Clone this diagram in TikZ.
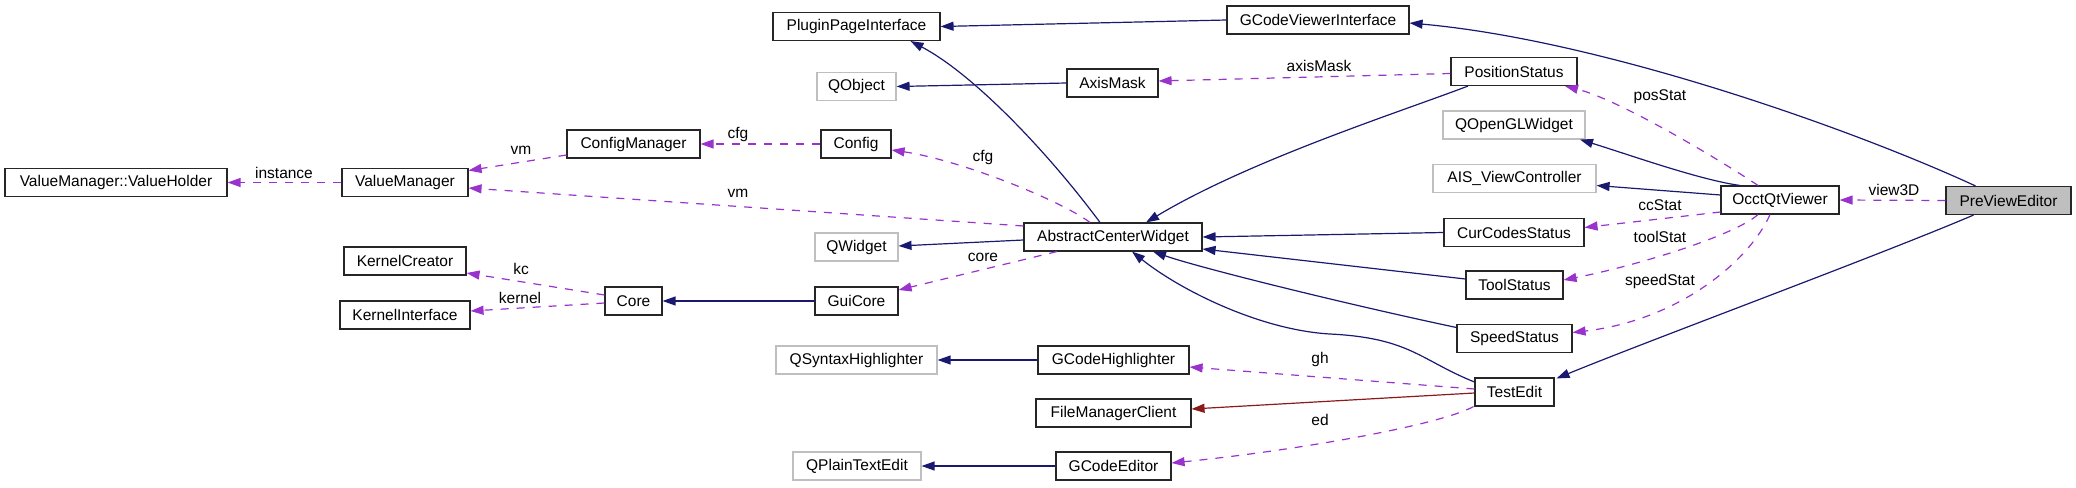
\documentclass[tikz,border=0pt]{standalone}
\usepackage{fontspec}
\setmainfont{Liberation Sans}
\usetikzlibrary{arrows.meta,calc}
\definecolor{inhblue}{HTML}{191970}
\definecolor{usepurple}{HTML}{9A32CD}
\definecolor{protred}{HTML}{8B1A1A}
\definecolor{extgray}{HTML}{BFBFBF}
\begin{document}
\begin{tikzpicture}[x=1pt,y=-1pt,
  cls/.style={draw=black!85, line width=1.1pt, rectangle, minimum height=28pt, inner sep=0pt, font=\fontsize{15.5}{18}\selectfont},
  ext/.style={cls, draw=extgray},
  cur/.style={cls, fill=extgray},
  inh/.style={draw=inhblue, line width=1.2pt, -{Triangle[length=13pt,width=9pt]}},
  prot/.style={inh, draw=protred},
  use/.style={draw=usepurple, line width=1.2pt, dash pattern=on 8pt off 8pt, -{Triangle[length=13pt,width=9pt]}},
  lbl/.style={font=\fontsize{15.5}{18}\selectfont, inner sep=0pt}]
\useasboundingbox (0,0) rectangle (2076,487);

% nodes
\node[cls, minimum width=222pt] (vh) at (116,182.5) {ValueManager::ValueHolder};
\node[cls, minimum width=126pt] (vm) at (405,182.5) {ValueManager};
\node[cls, minimum width=133pt] (cm) at (633.5,144) {ConfigManager};
\node[cls, minimum width=122pt] (kc) at (405,261) {KernelCreator};
\node[cls, minimum width=130pt] (ki) at (405,315) {KernelInterface};
\node[cls, minimum width=57pt] (core) at (633.5,301) {Core};
\node[cls, minimum width=167pt] (ppi) at (856.5,26.5) {PluginPageInterface};
\node[ext, minimum width=79pt] (qobj) at (856.5,86.5) {QObject};
\node[cls, minimum width=70pt] (config) at (856,144) {Config};
\node[ext, minimum width=83pt] (qwidget) at (856.5,247) {QWidget};
\node[cls, minimum width=83pt] (guicore) at (856.5,301) {GuiCore};
\node[ext, minimum width=161pt] (qsh) at (856.5,360) {QSyntaxHighlighter};
\node[ext, minimum width=128pt] (qpte) at (857,466) {QPlainTextEdit};
\node[cls, minimum width=91pt] (axis) at (1112.5,83) {AxisMask};
\node[cls, minimum width=178pt] (acw) at (1113,237) {AbstractCenterWidget};
\node[cls, minimum width=151pt] (gch) at (1113.5,360) {GCodeHighlighter};
\node[cls, minimum width=155pt] (fmc) at (1113.5,413) {FileManagerClient};
\node[cls, minimum width=115pt] (gce) at (1113.5,466) {GCodeEditor};
\node[cls, minimum width=182pt] (gvi) at (1318,20) {GCodeViewerInterface};
\node[cls, minimum width=126pt] (pos) at (1514,71.5) {PositionStatus};
\node[ext, minimum width=142pt] (qogl) at (1514,125) {QOpenGLWidget};
\node[ext, minimum width=163pt] (ais) at (1514.5,178.5) {AIS\_ViewController};
\node[cls, minimum width=140pt] (ccs) at (1514,232.5) {CurCodesStatus};
\node[cls, minimum width=97pt] (tool) at (1514.5,285) {ToolStatus};
\node[cls, minimum width=115pt] (speed) at (1514.5,338.5) {SpeedStatus};
\node[cls, minimum width=79pt] (test) at (1514.5,392) {TestEdit};
\node[cls, minimum width=118pt] (oqv) at (1780,200) {OcctQtViewer};
\node[cur, minimum width=125pt] (pve) at (2008.5,200.5) {PreViewEditor};

% inheritance edges
\draw[inh] (gvi.west) -- (ppi.east);
\draw[inh] ([xshift=-33pt]pve.north) .. controls (1850,128) and (1600,40) .. ([yshift=-3pt]gvi.east);
\draw[inh] ([xshift=-13pt]acw.north) .. controls (1050,155) and (975,75) .. ([xshift=54pt]ppi.south);
\draw[inh] (axis.west) -- (qobj.east);
\draw[inh] ([xshift=-46pt]pos.south) .. controls (1400,112) and (1250,160) .. ([xshift=33pt]acw.north);
\draw[inh] ([yshift=-3pt]acw.west) -- ([yshift=1pt]qwidget.east);
\draw[inh] (ccs.west) -- (acw.east);
\draw[inh] ([yshift=6pt]tool.west) -- ([yshift=-12pt]acw.east);
\draw[inh] ([yshift=11pt]speed.west) .. controls (1350,305) and (1200,268) .. ([xshift=40pt]acw.south);
\draw[inh] ([yshift=10pt]test.west) .. controls (1420,360) and (1410,338) .. (1330,334) .. controls (1260,330) and (1180,290) .. ([xshift=19pt]acw.south);
\draw[inh] ([xshift=-35pt]pve.south) .. controls (1880,255) and (1650,340) .. ([xshift=42pt,yshift=-1pt]test.north);
\draw[inh] ([xshift=-40pt]oqv.north) .. controls (1700,180) and (1630,155) .. ([xshift=66pt]qogl.south);
\draw[inh] ([yshift=5pt]oqv.west) -- ([yshift=-7pt]ais.east);
\draw[inh] (guicore.west) -- (core.east);
\draw[inh] (gch.west) -- (qsh.east);
\draw[prot] ([yshift=-1pt]test.west) -- ([yshift=4pt]fmc.east);
\draw[inh] (gce.west) -- (qpte.east);

% usage edges
\draw[use] (vm.west) -- (vh.east);
\node[lbl] (linst) at (284,173) {instance};
\draw[use] ([yshift=-11pt]cm.west) -- ([yshift=12pt]vm.east);
\node[lbl] (lvm1) at (521,150) {vm};
\draw[use] (config.west) -- (cm.east);
\node[lbl] (lcfg1) at (738,134) {cfg};
\draw[use] ([yshift=11pt]acw.west) -- ([yshift=-5.5pt]vm.east);
\node[lbl] (lvm2) at (738,193) {vm};
\draw[use] ([xshift=-23pt]acw.north) .. controls (1060,200) and (960,160) .. ([yshift=-6pt]config.east);
\node[lbl] (lcfg2) at (983,157) {cfg};
\draw[use] ([xshift=-56pt]acw.south) -- ([yshift=11pt]guicore.east);
\node[lbl] (lcore) at (983,257) {core};
\draw[use] ([yshift=6pt]core.west) -- ([yshift=-12pt]kc.east);
\node[lbl] (lkc) at (521,269) {kc};
\draw[use] ([yshift=-2pt]core.west) -- ([yshift=4pt]ki.east);
\node[lbl] (lkernel) at (520,298) {kernel};
\draw[use] ([yshift=-2pt]pos.west) -- ([yshift=2pt]axis.east);
\node[lbl] (laxis) at (1319,66) {axisMask};
\draw[use] ([xshift=-22pt]oqv.north) .. controls (1720,160) and (1620,100) .. ([xshift=51pt]pos.south);
\node[lbl] (lpos) at (1660,97) {posStat};
\draw[use] ([yshift=-12pt]oqv.west) -- ([yshift=5pt]ccs.east);
\node[lbl] (lcc) at (1660,205) {ccStat};
\draw[use] ([xshift=-22pt]oqv.south) .. controls (1735,235) and (1640,265) .. ([yshift=5pt]tool.east);
\node[lbl] (ltool) at (1660,237) {toolStat};
\draw[use] ([xshift=-10pt]oqv.south) .. controls (1750,260) and (1680,320) .. ([yshift=6pt]speed.east);
\node[lbl] (lspeed) at (1660,281) {speedStat};
\draw[use] (pve.west) -- (oqv.east);
\node[lbl] (lview) at (1894,190) {view3D};
\draw[use] ([yshift=3pt]test.west) -- ([yshift=-7pt]gch.east);
\node[lbl] (lgh) at (1320,359) {gh};
\draw[use] ([xshift=-41pt]test.south) .. controls (1440,425) and (1300,450) .. ([yshift=3pt]gce.east);
\node[lbl] (led) at (1320,420) {ed};
\end{tikzpicture}
\end{document}
